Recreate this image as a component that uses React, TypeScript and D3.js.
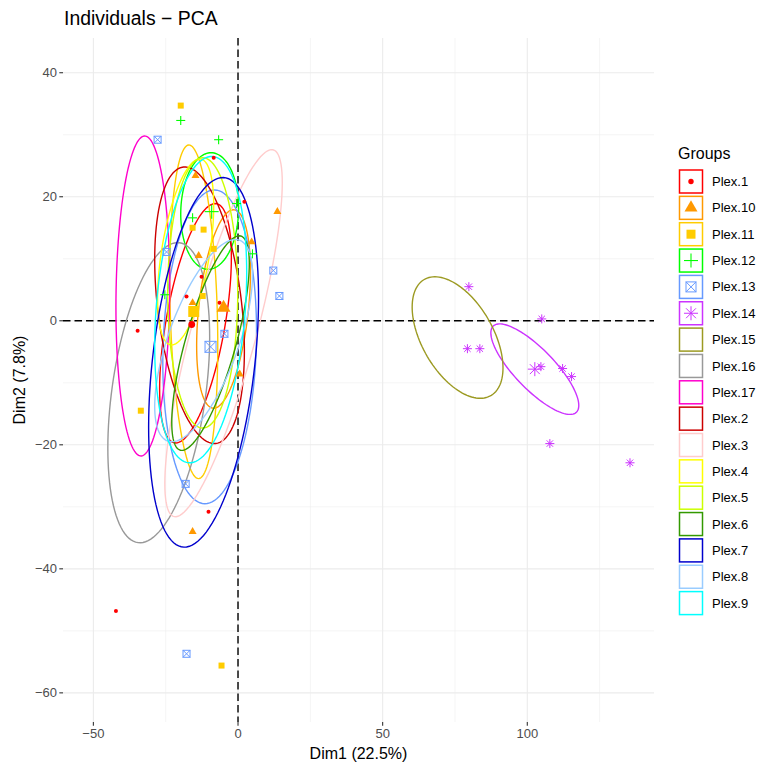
import * as d3 from "d3";

// groups in legend order
const groups = [
  "Plex.1", "Plex.10", "Plex.11", "Plex.12", "Plex.13", "Plex.14", "Plex.15", "Plex.16", "Plex.17",
  "Plex.2", "Plex.3", "Plex.4", "Plex.5", "Plex.6", "Plex.7", "Plex.8", "Plex.9",
];
const groupColors = [
  "#FF0000", "#FF9900", "#FFCC00", "#00FF00", "#6699FF", "#CC33FF", "#9C9A22", "#999999", "#FF00CC",
  "#CC0000", "#FFCCCC", "#FFFF00", "#CCFF00", "#339900", "#0000CC", "#99CCFF", "#00FFFF",
];
// only the first six groups get a point shape
const groupShapes = ["circle", "triangle", "square", "plus", "squarecross", "asterisk"];

// ellipse: centre, half width (x), half height (y), k = offset of top point / half width
const ellCx = [-14.7, -5.0, -15.3, -9.8, -9.8, 102.6, 75.9, -27.4, -32.9, -13.3, -5.0, -18.1, -12.2, -9.5, -11.9, -11.9, -12.9];
const ellCy = [-0.4, 1.9, 1.45, 17.7, -4.2, -7.8, -2.7, -11.6, 4.0, 2.5, -2.0, 11.1, 4.5, -3.6, -6.7, -3.2, 1.8];
const ellA = [12.4, 9.3, 8.3, 10.0, 16.2, 15.2, 15.7, 17.6, 9.3, 15.5, 20.3, 9.7, 12.1, 13.4, 19.0, 16.9, 15.9];
const ellB = [19.3, 16.0, 26.9, 9.4, 25.3, 7.3, 9.8, 24.2, 25.8, 22.3, 29.6, 15.0, 21.8, 17.3, 29.8, 16.3, 24.7];
const ellK = [0.55, 0.37, -0.2, 0.05, 0.1, -0.8, -0.5, 0.37, 0.07, -0.33, 0.82, 0.5, 0.0, 0.74, 0.35, 0.65, 0.24];

// individuals
const ptsPlex1: [number, number][] = [
  [-8.4, 26.3], [2.2, 19.2], [-17.8, 3.9], [-6.4, 2.9], [-34.7, -1.6], [-10.2, -30.8], [-42.2, -46.8], [-12.6, 7.1],
];
const ptsPlex10: [number, number][] = [
  [-14.7, 23.4], [13.6, 17.6], [4.7, 12.7], [-13.6, 10.5], [-15.7, 2.9], [0.6, -8.6], [-15.7, -34.0],
];
const ptsPlex11: [number, number][] = [
  [-19.8, 34.7], [-15.7, 15.0], [-11.9, 14.7], [-8.4, 11.6], [-12.2, 4.0], [-33.6, -14.5], [-5.7, -55.6],
];
const ptsPlex12: [number, number][] = [
  [-19.8, 32.3], [-6.7, 29.2], [-15.7, 16.6], [-0.5, 18.9], [5.0, 10.8], [-25.3, 4.2],
];
const ptsPlex13: [number, number][] = [
  [-27.8, 29.2], [12.2, 8.1], [14.3, 4.0], [-4.7, -2.1], [-18.1, -26.3], [-17.8, -53.7], [-24.7, 11.1],
];
const ptsPlex14: [number, number][] = [
  [79.8, 5.5], [105.0, 0.3], [79.3, -4.5], [83.6, -4.5], [104.7, -7.4], [112.2, -7.7], [115.3, -9.0],
  [107.8, -19.8], [135.5, -22.9],
];
const groupPoints = [ptsPlex1, ptsPlex10, ptsPlex11, ptsPlex12, ptsPlex13, ptsPlex14];

// group means (larger markers)
const meanX = [-16.0, -5.0, -15.3, -9.1, -9.5, 102.6];
const meanY = [-0.6, 2.1, 1.5, 17.6, -4.2, -7.8];

const xMajor = [-50, 0, 50, 100];
const xMinor = [-25, 25, 75, 125];
const yMajor = [-60, -40, -20, 0, 20, 40];
const yMinor = [-50, -30, -10, 10, 30];

const W = 759;
const H = 767;
const P = { left: 63, right: 654, top: 38, bottom: 722 };

const x = d3.scaleLinear().domain([-60.5, 143.8]).range([P.left, P.right]);
const y = d3.scaleLinear().domain([-64.7, 45.6]).range([P.bottom, P.top]);

const FONT = "'Liberation Sans', Arial, Helvetica, sans-serif";

type Size = "small" | "big" | "legend";
const dims: Record<string, Record<Size, number>> = {
  circle: { small: 2, big: 3.4, legend: 2.7 },
  triangle: { small: 8, big: 14, legend: 13 },
  square: { small: 6, big: 11, legend: 9 },
  plus: { small: 4.5, big: 7, legend: 7 },
  squarecross: { small: 3.5, big: 5.5, legend: 5 },
  asterisk: { small: 4.5, big: 7, legend: 7 },
};

function Marker({ shape, cx, cy, color, size }: { shape: string; cx: number; cy: number; color: string; size: Size }) {
  const d = dims[shape][size];
  if (shape === "circle") return <circle cx={cx} cy={cy} r={d} fill={color} />;
  if (shape === "triangle") {
    const p = d3.symbol(d3.symbolTriangle, (d * d * Math.sqrt(3)) / 4)();
    return <path d={p || ""} transform={`translate(${cx},${cy})`} fill={color} />;
  }
  if (shape === "square") return <rect x={cx - d / 2} y={cy - d / 2} width={d} height={d} fill={color} />;
  if (shape === "plus")
    return (
      <g stroke={color} strokeWidth={1.1}>
        <line x1={cx - d} x2={cx + d} y1={cy} y2={cy} />
        <line x1={cx} x2={cx} y1={cy - d} y2={cy + d} />
      </g>
    );
  if (shape === "squarecross")
    return (
      <g stroke={color} strokeWidth={1} fill="none">
        <rect x={cx - d} y={cy - d} width={2 * d} height={2 * d} />
        <line x1={cx - d} x2={cx + d} y1={cy - d} y2={cy + d} />
        <line x1={cx - d} x2={cx + d} y1={cy + d} y2={cy - d} />
      </g>
    );
  const q = d * Math.SQRT1_2;
  return (
    <g stroke={color} strokeWidth={1}>
      <line x1={cx - d} x2={cx + d} y1={cy} y2={cy} />
      <line x1={cx} x2={cx} y1={cy - d} y2={cy + d} />
      <line x1={cx - q} x2={cx + q} y1={cy - q} y2={cy + q} />
      <line x1={cx - q} x2={cx + q} y1={cy + q} y2={cy - q} />
    </g>
  );
}

function ellipsePath(i: number) {
  const phi = Math.acos(ellK[i]);
  const ts = d3.range(0, 120).map((j) => (j / 120) * Math.PI * 2);
  const line = d3
    .line<number>()
    .x((t) => x(ellCx[i] + ellA[i] * Math.cos(t)))
    .y((t) => y(ellCy[i] + ellB[i] * Math.cos(t - phi)))
    .curve(d3.curveLinearClosed);
  return line(ts) || "";
}

export default function App() {
  const legendY0 = 181.5;
  const legendStep = 26.35;
  return (
    <svg width={W} height={H} style={{ position: "absolute", left: 0, top: 0 }} fontFamily={FONT}>
      <rect width={W} height={H} fill="#fff" />
      {/* grid */}
      {xMinor.map((v) => (
        <line key={"xm" + v} x1={x(v)} x2={x(v)} y1={P.top} y2={P.bottom} stroke="#EBEBEB" strokeWidth={0.55} />
      ))}
      {yMinor.map((v) => (
        <line key={"ym" + v} x1={P.left} x2={P.right} y1={y(v)} y2={y(v)} stroke="#EBEBEB" strokeWidth={0.55} />
      ))}
      {xMajor.map((v) => (
        <line key={"xM" + v} x1={x(v)} x2={x(v)} y1={P.top} y2={P.bottom} stroke="#EBEBEB" strokeWidth={1.1} />
      ))}
      {yMajor.map((v) => (
        <line key={"yM" + v} x1={P.left} x2={P.right} y1={y(v)} y2={y(v)} stroke="#EBEBEB" strokeWidth={1.1} />
      ))}
      {/* reference lines */}
      <line x1={P.left} x2={P.right} y1={y(0)} y2={y(0)} stroke="#000" strokeWidth={1.4} strokeDasharray="7.5,4" />
      <line x1={x(0)} x2={x(0)} y1={P.top} y2={P.bottom} stroke="#000" strokeWidth={1.4} strokeDasharray="7.5,4" />
      {/* ellipses */}
      {groups.map((g, i) => (
        <path key={"e" + g} d={ellipsePath(i)} fill="none" stroke={groupColors[i]} strokeWidth={1.4} />
      ))}
      {/* individuals */}
      {groupPoints.map((pts, i) =>
        pts.map((p, j) => (
          <Marker key={`p${i}-${j}`} shape={groupShapes[i]} cx={x(p[0])} cy={y(p[1])} color={groupColors[i]} size="small" />
        ))
      )}
      {/* means */}
      {meanX.map((mx, i) => (
        <Marker key={"m" + i} shape={groupShapes[i]} cx={x(mx)} cy={y(meanY[i])} color={groupColors[i]} size="big" />
      ))}
      {/* axes */}
      {xMajor.map((v) => (
        <g key={"xt" + v}>
          <line x1={x(v)} x2={x(v)} y1={P.bottom} y2={P.bottom + 3.7} stroke="#333" strokeWidth={1.1} />
          <text x={x(v)} y={P.bottom + 16} textAnchor="middle" fontSize={13} fill="#4D4D4D">
            {v < 0 ? "\u2212" + Math.abs(v) : v}
          </text>
        </g>
      ))}
      {yMajor.map((v) => (
        <g key={"yt" + v}>
          <line x1={P.left - 3.7} x2={P.left} y1={y(v)} y2={y(v)} stroke="#333" strokeWidth={1.1} />
          <text x={P.left - 6} y={y(v)} dy="0.35em" textAnchor="end" fontSize={13} fill="#4D4D4D">
            {v < 0 ? "\u2212" + Math.abs(v) : v}
          </text>
        </g>
      ))}
      <text x={(P.left + P.right) / 2} y={759} textAnchor="middle" fontSize={16} fill="#000">
        Dim1 (22.5%)
      </text>
      <text
        transform={`translate(25,${(P.top + P.bottom) / 2}) rotate(-90)`}
        textAnchor="middle"
        fontSize={16}
        fill="#000"
      >
        Dim2 (7.8%)
      </text>
      <text x={P.left + 1} y={25} fontSize={19.4} fill="#000">
        Individuals {"\u2212"} PCA
      </text>
      {/* legend */}
      <text x={678} y={159} fontSize={16} fill="#000">
        Groups
      </text>
      {groups.map((g, i) => {
        const cy = legendY0 + i * legendStep;
        return (
          <g key={"l" + g}>
            <rect x={679.5} y={cy - 11.5} width={23} height={23} fill="#fff" stroke={groupColors[i]} strokeWidth={1.5} />
            {i < groupShapes.length && (
              <Marker shape={groupShapes[i]} cx={691} cy={cy} color={groupColors[i]} size="legend" />
            )}
            <text x={712} y={cy} dy="0.35em" fontSize={13} fill="#000">
              {g}
            </text>
          </g>
        );
      })}
    </svg>
  );
}
